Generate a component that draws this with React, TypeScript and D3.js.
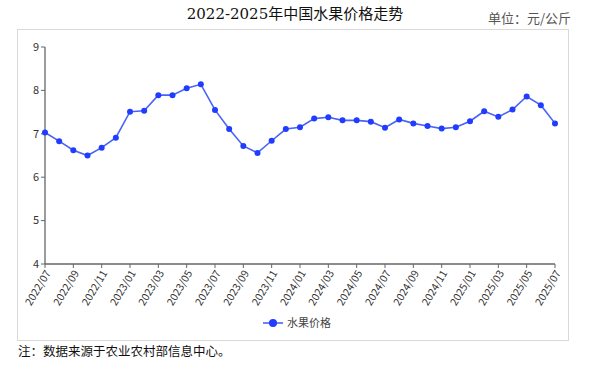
import React from "react";
import * as d3 from "d3";

const months: string[] = [
  "2022/07","2022/08","2022/09","2022/10","2022/11","2022/12",
  "2023/01","2023/02","2023/03","2023/04","2023/05","2023/06",
  "2023/07","2023/08","2023/09","2023/10","2023/11","2023/12",
  "2024/01","2024/02","2024/03","2024/04","2024/05","2024/06",
  "2024/07","2024/08","2024/09","2024/10","2024/11","2024/12",
  "2025/01","2025/02","2025/03","2025/04","2025/05","2025/06","2025/07",
];
const prices: number[] = [
  7.03, 6.83, 6.62, 6.50, 6.68, 6.91,
  7.51, 7.53, 7.89, 7.89, 8.05, 8.14,
  7.55, 7.11, 6.72, 6.56, 6.84, 7.11,
  7.15, 7.35, 7.38, 7.31, 7.31, 7.28,
  7.14, 7.33, 7.24, 7.18, 7.12, 7.15,
  7.29, 7.52, 7.39, 7.56, 7.86, 7.66, 7.24,
];
const yTicks: number[] = [4, 5, 6, 7, 8, 9];
const title = "2022-2025年中国水果价格走势";
const unit = "单位：元/公斤";
const seriesName = "水果价格";
const note = "注：数据来源于农业农村部信息中心。";

const W = 590, H = 368;
const x0 = 45, x1 = 555, yTop = 47, yBot = 264;

export default function App() {
  const x = d3.scalePoint<string>().domain(months).range([x0, x1]);
  const y = d3.scaleLinear().domain([4, 9]).range([yBot, yTop]);
  const line = d3.line<number>().x((_, i) => x(months[i]) as number).y((d) => y(d));
  const xTickLabels = months.filter((_, i) => i % 2 === 0);
  const lineColor = "#4a63f7";
  const dotColor = "#1f3cff";
  const sans = "'Noto Sans CJK SC', 'Liberation Sans', sans-serif";
  const serif = "'DejaVu Serif', 'Liberation Serif', 'Noto Sans CJK SC', serif";
  return (
    <svg width={W} height={H} style={{ position: "absolute", left: 0, top: 0, background: "#fff" }}>
      <text x={295} y={14} dy="0.35em" textAnchor="middle" fontSize={15} fontFamily={serif} fill="#111">{title}</text>
      <text x={571} y={18} dy="0.35em" textAnchor="end" fontSize={13} fontFamily={sans} fill="#555">{unit}</text>
      <rect x={17.5} y={29.5} width={551} height={311} fill="none" stroke="#d9d9d9" strokeWidth={1} />
      {/* y axis */}
      <line x1={x0} x2={x0} y1={yTop} y2={yBot} stroke="#666" strokeWidth={1.3} />
      {yTicks.map((t) => (
        <g key={t}>
          <line x1={x0 - 4} x2={x0} y1={y(t)} y2={y(t)} stroke="#666" />
          <text x={x0 - 6} y={y(t)} dy="0.35em" textAnchor="end" fontSize={11} fontFamily={sans} fill="#333">{t}</text>
        </g>
      ))}
      {/* x axis */}
      <line x1={x0} x2={x1} y1={yBot} y2={yBot} stroke="#666" strokeWidth={1.3} />
      {xTickLabels.map((m) => {
        const px = x(m) as number;
        return (
          <g key={m}>
            <line x1={px} x2={px} y1={yBot} y2={yBot + 4} stroke="#666" />
            <text transform={`translate(${px + 3},${yBot + 7}) rotate(-59)`} textAnchor="end" dy="0.35em" fontSize={10.5} fontFamily={sans} fill="#333">{m}</text>
          </g>
        );
      })}
      <path d={line(prices) || ""} fill="none" stroke={lineColor} strokeWidth={1.6} />
      {prices.map((v, i) => (
        <circle key={i} cx={x(months[i]) as number} cy={y(v)} r={3} fill={dotColor} />
      ))}
      {/* legend */}
      <line x1={263} x2={283} y1={323} y2={323} stroke={lineColor} strokeWidth={1.6} />
      <circle cx={273} cy={323} r={4} fill={dotColor} />
      <text x={287} y={323} dy="0.35em" fontSize={11} fontFamily={sans} fill="#444">{seriesName}</text>
      <text x={18} y={352} dy="0.35em" fontSize={12.5} fontFamily={serif} fill="#111">{note}</text>
    </svg>
  );
}
